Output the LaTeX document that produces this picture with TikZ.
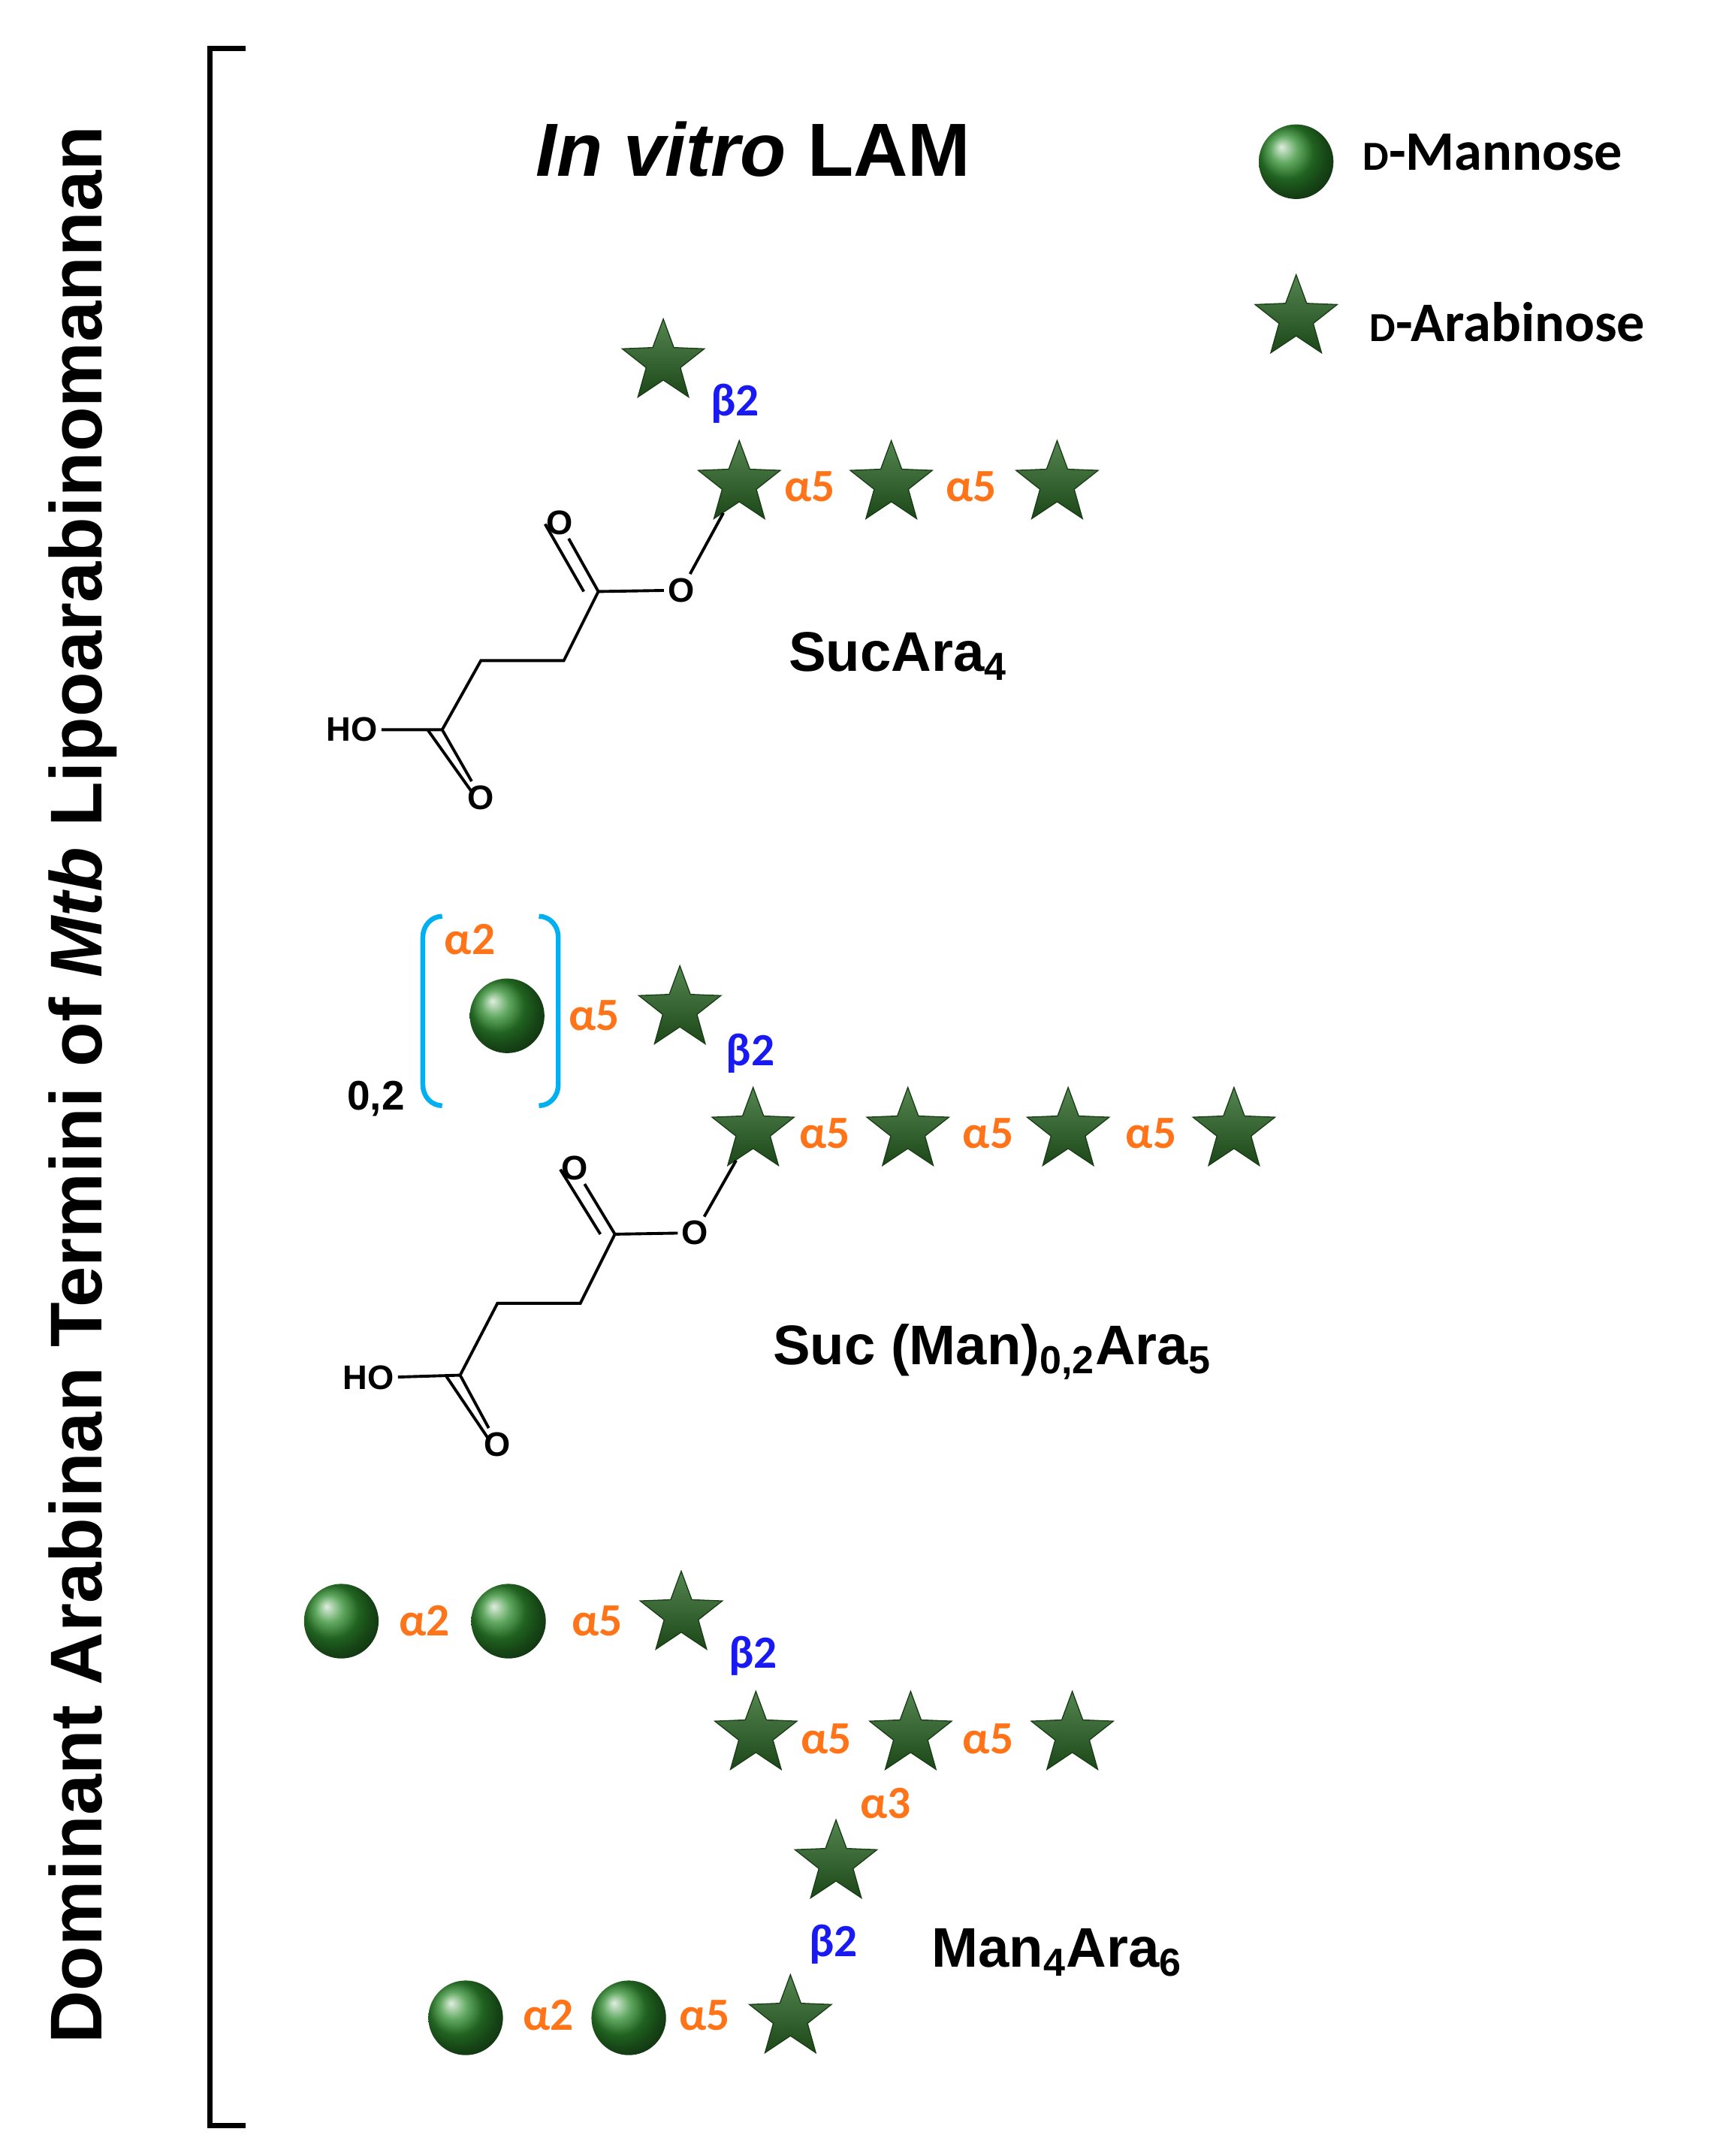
\documentclass[tikz,border=0pt]{standalone}
\usepackage{fontspec}
\setmainfont{Liberation Sans}
\newfontfamily\calib{Carlito}
\usetikzlibrary{shapes.geometric,positioning}
\definecolor{manG}{rgb}{0.18,0.55,0.18}
\definecolor{araG}{rgb}{0.16,0.40,0.14}
\definecolor{lnkO}{rgb}{1.0,0.45,0.10}
\definecolor{lnkB}{rgb}{0.10,0.10,0.95}
\definecolor{brkB}{rgb}{0.0,0.69,0.94}
\newcommand{\smD}{{\fontsize{17}{17}\selectfont D}}
\tikzset{
  ara/.style={star,star points=5,star point ratio=2.4,minimum size=1.25cm,inner sep=0pt,
    draw=araG!60!black,line width=0.4pt,top color=araG!80!white,bottom color=araG!70!black},
  man/.style={circle,minimum size=1.08cm,inner sep=0pt,ball color=manG},
  aO/.style={text=lnkO,font=\calib\bfseries\fontsize{19}{19}\selectfont,inner sep=1pt},
  aB/.style={text=lnkB,font=\calib\bfseries\fontsize{19}{19}\selectfont,inner sep=1pt},
  atom/.style={font=\bfseries\fontsize{14}{14}\selectfont,inner sep=1.5pt},
  nme/.style={font=\bfseries\fontsize{23}{23}\selectfont},
  bond/.style={line width=1.2pt}
}
\begin{document}
\begin{tikzpicture}[x=0.02cm,y=-0.02cm]
\useasboundingbox (0,0) rectangle (1240,1560);
% title and bracket
\node[rotate=90,font=\bfseries\fontsize{30.2}{30.2}\selectfont] (ttl) at (60,785) {Dominant Arabinan Termini of \textit{Mtb} Lipoarabinomannan};
\draw[line width=2.2pt] (178,35) -- (152,35) -- (152,1538) -- (178,1538);
\node[font=\bfseries\fontsize{31}{31}\selectfont] (hdr) at (545,108) {\textit{In vitro} LAM};
% legend
\node[man] (lgM) at (938,117) {};
\node[ara] (lgA) at (938,230) {};
\node[anchor=west,font=\calib\bfseries\fontsize{23}{23}\selectfont] (lgMt) at (980,110) {\smD-Mannose};
\node[anchor=west,font=\calib\bfseries\fontsize{23}{23}\selectfont] (lgAt) at (985,233) {\smD-Arabinose};
% SucAra4
\node[ara] (a1) at (480,262) {};
\node[aB] at (532,292) {β2};
\node[ara] (a2) at (535,350) {};
\node[ara] (a3) at (645,350) {};
\node[ara] (a4) at (765,350) {};
\node[aO] at (586,352) {α5};
\node[aO] at (703,352) {α5};
\node[atom] (oe1) at (493,427) {O};
\node[atom] (ou1) at (405,378) {O};
\node[atom] (od1) at (348,577) {O};
\node[atom,anchor=east] (ho1) at (276,528) {HO};
\coordinate (c11) at (433,428);
\coordinate (c12) at (408,478);
\coordinate (c13) at (348,478);
\coordinate (c14) at (320,528);
\draw[bond] (a2) -- (oe1) -- (c11) -- (c12) -- (c13) -- (c14) -- (ho1);
\draw[bond] (c11) -- (ou1);
\draw[bond] ([xshift=-6]c11) -- ([xshift=-6,yshift=6]ou1.south);
\draw[bond] (c14) -- (od1);
\draw[bond] ([xshift=-6]c14) -- ([xshift=-4,yshift=-4]od1.north);
\node[nme] (n1) at (650,475) {SucAra\textsubscript{4}};
% Suc(Man)0,2Ara5
\draw[brkB,line width=2pt] (320,663) to[out=180,in=90] (306,678) -- (306,785) to[out=-90,in=180] (320,800);
\draw[brkB,line width=2pt] (390,663) to[out=0,in=90] (404,678) -- (404,785) to[out=-90,in=0] (390,800);
\node[aO] at (340,680) {α2};
\node[man] (m1) at (367,735) {};
\node[aO] at (430,735) {α5};
\node[ara] (b1) at (492,730) {};
\node[aB] at (543,762) {β2};
\node[font=\bfseries\fontsize{17}{17}\selectfont] (rep) at (272,795) {0,2};
\node[ara] (b2) at (545,818) {};
\node[ara] (b3) at (657,818) {};
\node[ara] (b4) at (773,818) {};
\node[ara] (b5) at (893,818) {};
\foreach \x in {597,715,833} \node[aO] at (\x,820) {α5};
\node[atom] (oe2) at (503,892) {O};
\node[atom] (ou2) at (416,845) {O};
\node[atom] (od2) at (360,1045) {O};
\node[atom,anchor=east] (ho2) at (288,997) {HO};
\coordinate (c21) at (445,893);
\coordinate (c22) at (420,943);
\coordinate (c23) at (360,943);
\coordinate (c24) at (333,995);
\draw[bond] (b2) -- (oe2) -- (c21) -- (c22) -- (c23) -- (c24) -- (ho2);
\draw[bond] (c21) -- (ou2);
\draw[bond] ([xshift=-6]c21) -- ([xshift=-6,yshift=6]ou2.south);
\draw[bond] (c24) -- (od2);
\draw[bond] ([xshift=-6]c24) -- ([xshift=-4,yshift=-4]od2.north);
\node[nme] (n2) at (718,978) {Suc (Man)\textsubscript{0,2}Ara\textsubscript{5}};
% Man4Ara6
\node[man] (m2) at (247,1173) {};
\node[man] (m3) at (368,1173) {};
\node[aO] at (307,1173) {α2};
\node[aO] at (432,1173) {α5};
\node[ara] (c1) at (493,1168) {};
\node[aB] at (545,1198) {β2};
\node[ara] (c2) at (547,1255) {};
\node[ara] (c3) at (659,1255) {};
\node[ara] (c4) at (776,1255) {};
\node[aO] at (598,1258) {α5};
\node[aO] at (715,1258) {α5};
\node[aO] at (641,1305) {α3};
\node[ara] (c5) at (605,1348) {};
\node[aB] at (603,1407) {β2};
\node[man] (m4) at (337,1460) {};
\node[man] (m5) at (455,1460) {};
\node[aO] at (397,1458) {α2};
\node[aO] at (510,1458) {α5};
\node[ara] (c6) at (572,1460) {};
\node[nme] (n3) at (765,1413) {Man\textsubscript{4}Ara\textsubscript{6}};
\end{tikzpicture}
\end{document}
